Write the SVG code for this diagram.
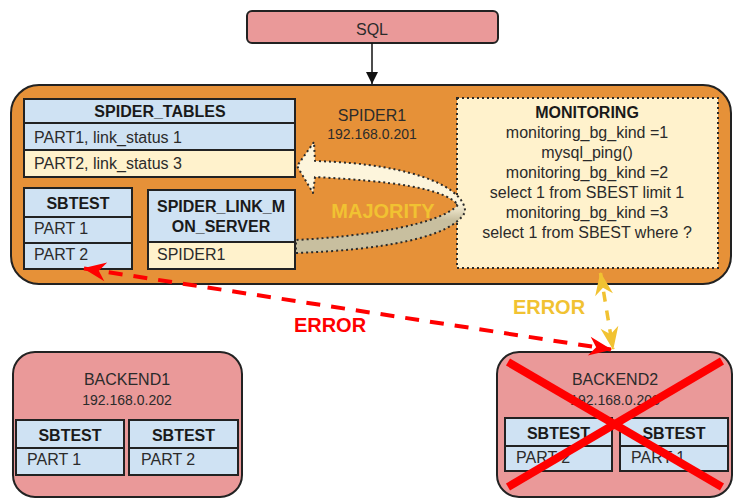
<svg xmlns="http://www.w3.org/2000/svg" width="733" height="504" viewBox="0 0 733 504">
<defs>
<style>
text{font-family:"Liberation Sans",Arial,sans-serif;fill:#2b2b2b;font-size:16px}
.b{font-weight:bold;fill:#1a1a1a}
.c{text-anchor:middle}
.ip{font-size:14px}
.big{font-size:20px;font-weight:bold}
.box{stroke:#222;stroke-width:2}
.blue{fill:#cfe2f3;stroke:#222;stroke-width:2}
.cream{fill:#fff2cc;stroke:#222;stroke-width:2}
.pink{fill:#ea9999;stroke:#222;stroke-width:2}
.dot{stroke:#2a2a2a;stroke-width:2;stroke-dasharray:2 3}
</style>
<marker id="ah" markerUnits="userSpaceOnUse" markerWidth="12" markerHeight="12" viewBox="-10 -5 10 10" refX="0" refY="0" orient="auto">
<path d="M0,0 L-10,-5 L-10,5 Z" fill="#111"/>
</marker>
<marker id="redh" markerUnits="userSpaceOnUse" markerWidth="26" markerHeight="22" viewBox="-22 -11 24 22" refX="0" refY="0" orient="auto-start-reverse">
<path d="M1,0 L-22,-9.5 L-15,0 L-22,9.5 Z" fill="#ff0000"/>
</marker>
<marker id="yelh" markerUnits="userSpaceOnUse" markerWidth="26" markerHeight="22" viewBox="-22 -11 24 22" refX="0" refY="0" orient="auto-start-reverse">
<path d="M1,0 L-22,-9 L-15,0 L-22,9 Z" fill="#f1c232"/>
</marker>
<linearGradient id="band" gradientUnits="userSpaceOnUse" x1="0" y1="203" x2="0" y2="220">
<stop offset="0" stop-color="#fdf5dc"/>
<stop offset="1" stop-color="#c8bf9f"/>
</linearGradient>
</defs>

<g id="sql">
<rect x="247" y="11" width="251" height="32" rx="5" class="pink"/>
<text x="372" y="35" class="c">SQL</text>
</g>

<g id="spider1">
<rect x="11" y="85" width="720" height="199" rx="28" fill="#e69138" class="box"/>
<text x="372" y="121" class="c">SPIDER1</text>
<text x="372" y="139" class="c ip">192.168.0.201</text>
</g>

<g id="spider_tables">
<rect x="24" y="99" width="271" height="24" class="blue"/>
<rect x="24" y="123" width="271" height="27" class="blue"/>
<rect x="24" y="150" width="271" height="27" class="cream"/>
<text x="160" y="117" class="b c">SPIDER_TABLES</text>
<text x="34" y="143">PART1, link_status 1</text>
<text x="34" y="169">PART2, link_status 3</text>
</g>

<g id="sbtest_spider1">
<rect x="24" y="188" width="108" height="29" class="blue"/>
<rect x="24" y="217" width="108" height="26" class="blue"/>
<rect x="24" y="243" width="108" height="26" class="blue"/>
<text x="78" y="209" class="b c">SBTEST</text>
<text x="34" y="234">PART 1</text>
<text x="34" y="260">PART 2</text>
</g>

<g id="spider_link_mon_server">
<rect x="148" y="190" width="147" height="52" class="blue"/>
<rect x="148" y="242" width="147" height="27" class="cream"/>
<text x="221" y="212" class="b c">SPIDER_LINK_M</text>
<text x="221" y="232" class="b c">ON_SERVER</text>
<text x="157" y="260">SPIDER1</text>
</g>

<g id="monitoring">
<rect x="457" y="98" width="261" height="170" fill="#fff2cc" class="dot"/>
<text x="587" y="118" class="b c">MONITORING</text>
<text x="587" y="138" class="c">monitoring_bg_kind =1</text>
<text x="587" y="158" class="c">mysql_ping()</text>
<text x="587" y="178" class="c">monitoring_bg_kind =2</text>
<text x="587" y="198" class="c">select 1 from SBEST limit 1</text>
<text x="587" y="218" class="c">monitoring_bg_kind =3</text>
<text x="587" y="238" class="c">select 1 from SBEST where ?</text>
</g>

<g id="backend1">
<rect x="13" y="352" width="229" height="145" rx="22" class="pink"/>
<text x="127" y="385" class="c">BACKEND1</text>
<text x="127" y="405" class="c ip">192.168.0.202</text>
<rect x="16" y="420" width="108" height="28" class="blue"/>
<rect x="16" y="448" width="108" height="27" class="blue"/>
<rect x="129" y="420" width="109" height="28" class="blue"/>
<rect x="129" y="448" width="109" height="27" class="blue"/>
<text x="70" y="441" class="b c">SBTEST</text>
<text x="27" y="465">PART 1</text>
<text x="183.5" y="441" class="b c">SBTEST</text>
<text x="141" y="465">PART 2</text>
</g>

<g id="backend2">
<rect x="497" y="352" width="235" height="145" rx="22" class="pink"/>
<text x="615" y="385" class="c">BACKEND2</text>
<text x="615" y="405" class="c ip">192.168.0.203</text>
<rect x="505" y="418" width="107" height="28" class="blue"/>
<rect x="505" y="446" width="107" height="25" class="blue"/>
<rect x="620" y="418" width="108" height="28" class="blue"/>
<rect x="620" y="446" width="108" height="25" class="blue"/>
<text x="558.5" y="439" class="b c">SBTEST</text>
<text x="516" y="463">PART 2</text>
<text x="674" y="439" class="b c">SBTEST</text>
<text x="631" y="463">PART 1</text>
<g stroke="#ff0000" stroke-width="8">
<line x1="508" y1="362" x2="722" y2="487"/>
<line x1="722" y1="361" x2="508" y2="487"/>
</g>
</g>

<g id="connectors">
<line x1="372" y1="43" x2="372" y2="84" stroke="#111" stroke-width="1.5" marker-end="url(#ah)"/>
<path d="M296,253 C380,250 452,238 465,212 C466,190 420,164 315,161 L314,142 L297,166 L313,193 L315,177 C390,181 445,188 458,205 C440,224 370,236 296,240 Z" fill="url(#band)" class="dot" stroke-linejoin="round"/>
<line x1="84" y1="268.5" x2="611" y2="349.5" stroke="#ff0000" stroke-width="4" stroke-dasharray="14 11" marker-start="url(#redh)" marker-end="url(#redh)"/>
<line x1="600.5" y1="273" x2="613" y2="349" stroke="#f1c232" stroke-width="3.5" stroke-dasharray="10 9" marker-start="url(#yelh)" marker-end="url(#yelh)"/>
</g>

<g id="labels">
<text x="383" y="218" class="big c" style="fill:#f1c232">MAJORITY</text>
<text x="330" y="332" class="big c" style="fill:#ff0000">ERROR</text>
<text x="549" y="314" class="big c" style="fill:#f1c232">ERROR</text>
</g>
</svg>
